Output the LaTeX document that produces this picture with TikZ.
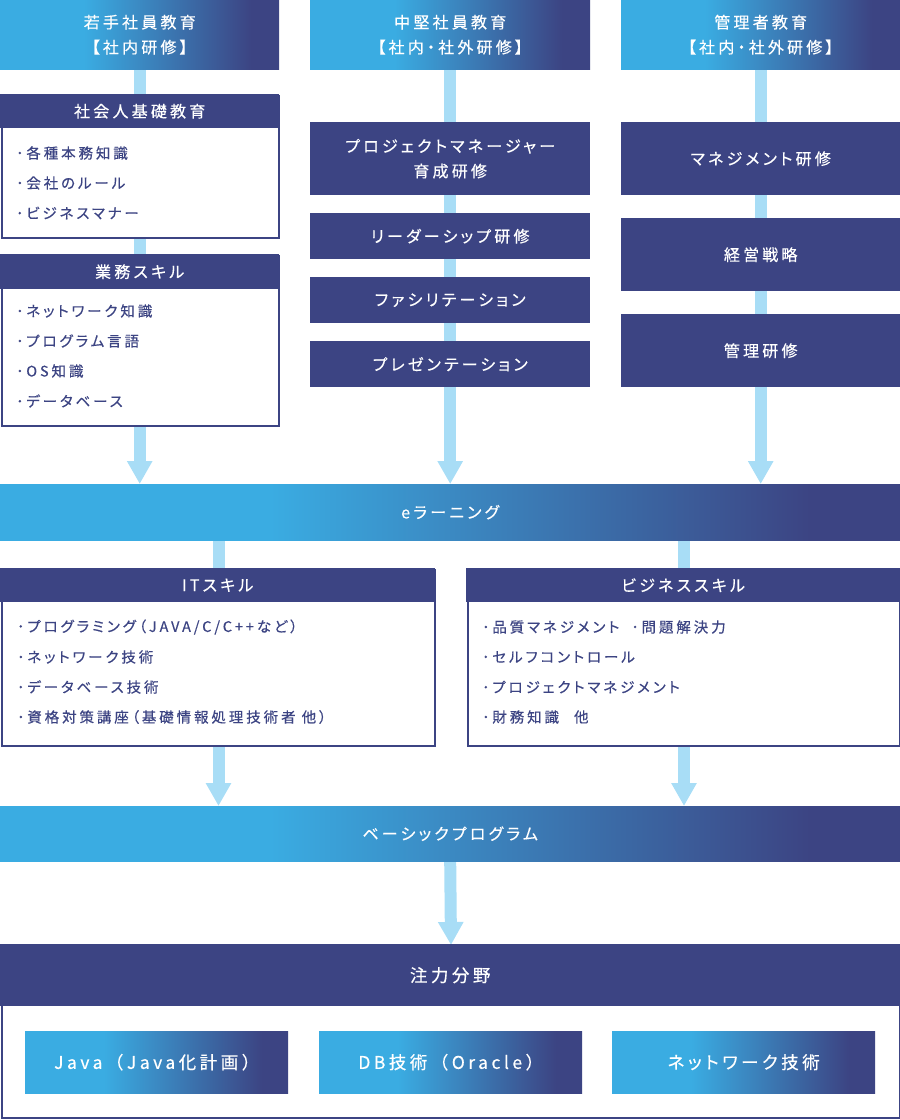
\documentclass[tikz,border=0pt]{standalone}
\usepackage{fontspec}
\setmainfont{Noto Sans CJK JP}
\newfontfamily\jpfont[LetterSpace=20, CharacterWidth=AlternateProportional, FakeBold=0.4]{Noto Sans CJK JP}
\newfontfamily\jpfontw[LetterSpace=20, FakeBold=0.4]{Noto Sans CJK JP}
\newcommand\hdrfont{\jpfont\fontsize{16}{25}\selectfont}
\newcommand\itemfont{\jpfont\fontsize{14.5}{18}\selectfont}
\newcommand\bigfont{\jpfont\fontsize{17.5}{22}\selectfont}
\newcommand\bigfontw{\jpfontw\fontsize{17.5}{22}\selectfont}
\usetikzlibrary{arrows.meta,backgrounds}
\definecolor{navy}{RGB}{60,68,131}
\definecolor{lblue}{RGB}{58,172,226}
\definecolor{connc}{RGB}{168,221,246}
\pgfdeclarehorizontalshading{grad}{100bp}{color(0bp)=(lblue); color(40bp)=(lblue); color(70bp)=(navy); color(100bp)=(navy)}
\begin{document}
\begin{tikzpicture}[x=1pt,y=-1pt,
  hdr/.style={shade, shading=grad, anchor=north west, inner sep=0pt, text=white, align=center, font=\hdrfont},
  nbox/.style={fill=navy, anchor=north west, inner sep=0pt, text=white, align=center, font=\hdrfont},
  body/.style={draw=navy, line width=2pt, fill=white, anchor=north west, inner sep=0pt},
  item/.style={anchor=west, inner sep=0pt, text=navy, font=\itemfont},
  conn/.style={draw=connc, line width=12pt},
  arr/.style={conn, -{Triangle[width=24pt,length=23pt]}},
]
\useasboundingbox (0,0) rectangle (900,1120);
% top headers
\node[hdr, minimum width=279, minimum height=69] (h1) at (0,0) {若手社員教育\\【社内研修】};
\node[hdr, minimum width=280, minimum height=69] (h2) at (310,0) {中堅社員教育\\【社内・社外研修】};
\node[hdr, minimum width=279, minimum height=69] (h3) at (621,0) {管理者教育\\【社内・社外研修】};
% column 1
\node[body, minimum width=277, minimum height=142] (b1) at (1,95) {};
\node[nbox, minimum width=279, minimum height=34] (b1h) at (0,94) {社会人基礎教育};
\node[item] (b1i1) at (16,153) {･各種本務知識};
\node[item] (b1i2) at (16,183) {･会社のルール};
\node[item] (b1i3) at (16,213) {･ビジネスマナー};
\node[body, minimum width=277, minimum height=170] (b2) at (1,255) {};
\node[nbox, minimum width=279, minimum height=35] (b2h) at (0,254) {業務スキル};
\node[item] (b2i1) at (16,311) {･ネットワーク知識};
\node[item] (b2i2) at (16,341) {･プログラム言語};
\node[item] (b2i3) at (16,371) {･OS知識};
\node[item] (b2i4) at (16,401) {･データベース};
% column 2
\node[nbox, minimum width=280, minimum height=73] (c1) at (310,122) {プロジェクトマネージャー\\育成研修};
\node[nbox, minimum width=280, minimum height=46] (c2) at (310,213) {リーダーシップ研修};
\node[nbox, minimum width=280, minimum height=46] (c3) at (310,277) {ファシリテーション};
\node[nbox, minimum width=280, minimum height=46] (c4) at (310,341) {プレゼンテーション};
% column 3
\node[nbox, minimum width=279, minimum height=73] (d1) at (621,122) {マネジメント研修};
\node[nbox, minimum width=279, minimum height=73] (d2) at (621,218) {経営戦略};
\node[nbox, minimum width=279, minimum height=73] (d3) at (621,314) {管理研修};
% e-learning band
\node[hdr, minimum width=900, minimum height=56] (el) at (0,484) {eラーニング};
% IT skill
\node[body, minimum width=433, minimum height=176] (it) at (1,569) {};
\node[nbox, minimum width=435, minimum height=34] (ith) at (0,568) {ITスキル};
\node[item] (iti1) at (17,627) {･プログラミング（JAVA/C/C++など）};
\node[item] (iti2) at (17,657) {･ネットワーク技術};
\node[item] (iti3) at (17,687) {･データベース技術};
\node[item] (iti4) at (17,717) {･資格対策講座（基礎情報処理技術者 他）};
% business skill
\node[body, minimum width=432, minimum height=176] (bz) at (467,569) {};
\node[nbox, minimum width=434, minimum height=34] (bzh) at (466,568) {ビジネススキル};
\node[item] (bzi1) at (482,627) {･品質マネジメント\hspace{12pt}･問題解決力};
\node[item] (bzi2) at (482,657) {･セルフコントロール};
\node[item] (bzi3) at (482,687) {･プロジェクトマネジメント};
\node[item] (bzi4) at (482,717) {･財務知識\hspace{15pt}他};
% basic program band
\node[hdr, minimum width=900, minimum height=55] (bp) at (0,806) {ベーシックプログラム};
% focus area
\node[body, minimum width=898, minimum height=172] (fa) at (1,945) {};
\node[nbox, minimum width=900, minimum height=62, font=\bigfont] (fah) at (0,944) {注力分野};
\node[hdr, minimum width=263, minimum height=62, font=\bigfontw] (f1) at (25,1031) {Java（Java化計画）};
\node[hdr, minimum width=263, minimum height=62, font=\bigfontw] (f2) at (319,1031) {DB技術（Oracle）};
\node[hdr, minimum width=263, minimum height=62, font=\bigfont] (f3) at (612,1031) {ネットワーク技術};
% connectors
\begin{scope}[on background layer]
\draw[arr] (h1.south) -- (h1.south |- el.north);
\draw[arr] (h2.south) -- (h2.south |- el.north);
\draw[arr] (h3.south) -- (h3.south |- el.north);
\draw[conn] (el.south -| it.north) -- (it.north);
\draw[conn] (el.south -| bz.north) -- (bz.north);
\draw[arr] (it.south) -- (it.south |- bp.north);
\draw[arr] (bz.south) -- (bz.south |- bp.north);
\draw[arr] (bp.south) -- (fa.north);
\end{scope}
\end{tikzpicture}
\end{document}
